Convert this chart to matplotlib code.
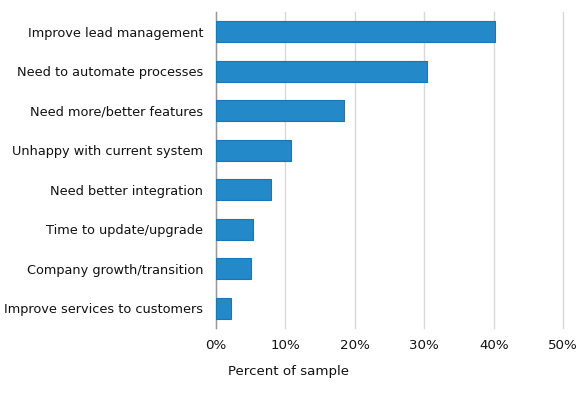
import matplotlib
matplotlib.use("Agg")
import matplotlib.pyplot as plt
from matplotlib.ticker import FuncFormatter

# Data
reasons = [
    "Improve lead management",
    "Need to automate processes",
    "Need more/better features",
    "Unhappy with current system",
    "Need better integration",
    "Time to update/upgrade",
    "Company growth/transition",
    "Improve services to customers",
]
percent = [40.2, 30.4, 18.4, 10.9, 8.0, 5.4, 5.1, 2.2]
xticks = [0, 10, 20, 30, 40, 50]

plt.rcParams['font.family'] = ['DejaVu Sans']

fig = plt.figure(figsize=(5.8, 3.96), dpi=100)
ax = fig.add_axes([0.3719, 0.1717, 0.5993, 0.798])

pos = list(range(len(reasons)))
ax.barh(pos, percent, height=0.53, color='#2389c9', edgecolor='#1a76b6', linewidth=0.8, zorder=3)

ax.set_ylim(len(reasons) - 0.5, -0.5)
ax.set_xlim(0, 50)
ax.set_yticks(pos)
ax.set_yticklabels(reasons, fontsize=9.3, color='#111111')
ax.set_xticks(xticks)
ax.xaxis.set_major_formatter(FuncFormatter(lambda v, p: f"{v:.0f}%"))
ax.tick_params(axis='x', labelsize=9.6, colors='#111111', length=0, pad=8)
ax.tick_params(axis='y', length=0, pad=9)

ax.grid(axis='x', color='#d9d9d9', linewidth=1, zorder=0)
for gl in ax.get_xgridlines():
    gl.set_clip_on(False)
for s in ['top', 'right', 'bottom']:
    ax.spines[s].set_visible(False)
ax.spines['left'].set_color('#999999')
ax.spines['left'].set_linewidth(1)

fig.text(288.7 / 580, 1 - 371 / 396, "Percent of sample", fontsize=9.6,
         ha='center', va='center', color='#111111')

fig.savefig("out.png", dpi=100)
